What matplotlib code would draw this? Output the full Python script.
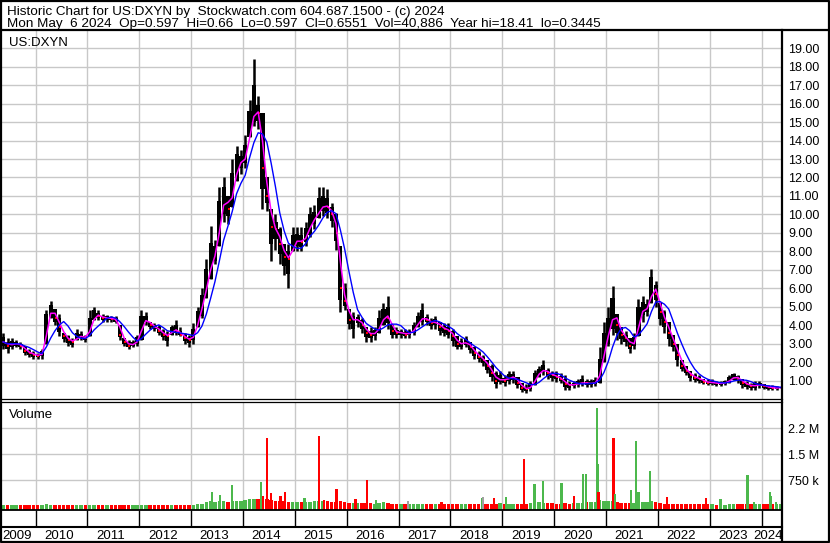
import numpy as np
import pandas as pd
import matplotlib
matplotlib.use("Agg")
import matplotlib.pyplot as plt

plt.rcParams['font.family'] = ['Liberation Sans', 'DejaVu Sans']

# monthly data, May 2009 .. May 2024
months = pd.period_range('2009-05', '2024-05', freq='M')

close = [3.1, 2.9, 3.0, 3.0, 2.9, 2.6, 2.5, 2.4,
         2.35, 2.5, 4.4, 4.9, 4.4, 3.9, 3.4, 3.2, 3.1, 3.4, 3.4, 3.3,
         4.0, 4.6, 4.5, 4.4, 4.4, 4.35, 4.3, 3.5, 3.1, 2.9, 3.0, 3.2,
         4.2, 4.3, 4.0, 3.9, 3.7, 3.5, 3.4, 3.8, 3.7, 3.5, 3.3, 3.2,
         3.5, 4.5, 5.3, 6.5, 7.5, 8.0, 10.0, 11.0, 10.3, 11.5, 12.8, 12.8,
         13.2, 15.0, 15.6, 15.5, 12.5, 11.0, 9.3, 9.2, 8.4, 7.7, 7.6, 8.5,
         8.6, 8.5, 8.9, 9.6, 9.8, 10.3, 10.5, 10.4, 10.0, 9.0, 6.0, 5.3,
         4.3, 4.3, 4.3, 4.0, 3.6, 3.5, 3.6, 4.0, 4.6, 4.4, 3.7, 3.6,
         3.6, 3.5, 3.6, 3.8, 4.3, 4.4, 4.3, 4.1, 4.2, 3.9, 3.8, 3.7,
         3.4, 3.0, 3.0, 3.1, 2.8, 2.5, 2.3, 2.1, 1.8, 1.4, 1.0, 1.1,
         1.0, 1.2, 1.2, 0.9, 0.6, 0.55, 0.7, 1.2, 1.5, 1.6, 1.4, 1.3,
         1.2, 1.1, 0.8, 0.75, 0.8, 0.85, 0.9, 0.85, 0.85, 0.9, 1.6, 3.0,
         3.8, 4.8, 4.0, 3.5, 3.3, 2.9, 3.1, 4.6, 4.9, 4.9, 6.2, 5.7,
         4.7, 4.2, 3.6, 3.0, 2.4, 1.8, 1.5, 1.3, 1.15, 1.1, 0.95, 0.9,
         0.9, 0.85, 0.85, 0.9, 1.05, 1.25, 1.1, 0.9, 0.8, 0.7, 0.75, 0.8,
         0.7, 0.65, 0.6, 0.6, 0.6551]

high = [3.6, 3.3, 3.3, 3.2, 3.1, 2.9, 2.7, 2.6,
        2.5, 2.7, 4.8, 5.3, 4.9, 4.6, 3.6, 3.5, 3.3, 3.8, 3.7, 3.5,
        4.8, 5.0, 4.8, 4.6, 4.55, 4.5, 4.5, 4.0, 3.3, 3.2, 3.2, 3.5,
        4.8, 4.7, 4.2, 4.1, 4.0, 3.8, 3.7, 4.0, 4.3, 3.9, 3.6, 3.5,
        4.1, 5.0, 6.0, 7.6, 9.4, 8.6, 11.5, 12.0, 11.0, 13.0, 13.7, 13.5,
        14.3, 16.2, 18.41, 16.4, 15.5, 12.0, 10.3, 10.0, 9.3, 8.4, 8.4, 9.3,
        9.3, 9.3, 9.6, 10.4, 10.5, 11.5, 11.5, 11.4, 10.6, 10.1, 8.3, 6.3,
        4.9, 4.7, 4.6, 4.4, 3.9, 3.9, 3.9, 4.8, 5.2, 5.6, 4.0, 3.9,
        3.8, 3.8, 3.8, 4.2, 4.7, 5.2, 4.6, 4.4, 4.5, 4.2, 4.1, 4.1,
        3.8, 3.4, 3.3, 3.4, 3.1, 2.8, 2.6, 2.4, 2.1, 1.9, 1.5, 1.5,
        1.3, 1.5, 1.5, 1.2, 0.85, 0.8, 1.0, 1.6, 1.8, 2.1, 1.7, 1.5,
        1.5, 1.4, 1.3, 1.0, 1.0, 1.1, 1.3, 1.1, 1.1, 1.2, 2.8, 4.2,
        5.0, 6.1, 4.6, 3.9, 3.7, 3.3, 3.6, 5.4, 5.6, 5.4, 7.05, 6.4,
        5.2, 4.8, 4.2, 3.5, 3.0, 2.1, 1.8, 1.5, 1.4, 1.3, 1.1, 1.1,
        1.1, 1.0, 1.0, 1.05, 1.3, 1.42, 1.3, 1.1, 1.0, 0.9, 1.0, 1.0,
        0.8, 0.75, 0.75, 0.7, 0.66]

low = [2.7, 2.5, 2.7, 2.8, 2.7, 2.4, 2.3, 2.2,
       2.2, 2.2, 3.0, 4.4, 4.0, 3.4, 3.1, 2.9, 2.8, 3.2, 3.2, 3.1,
       3.4, 4.3, 4.3, 4.2, 4.2, 4.2, 4.1, 3.2, 2.9, 2.7, 2.8, 2.9,
       3.2, 4.0, 3.8, 3.7, 3.5, 3.2, 2.9, 3.5, 3.5, 3.4, 3.0, 2.85,
       3.0, 3.9, 4.4, 5.5, 6.5, 7.3, 8.3, 9.6, 9.5, 10.4, 11.8, 12.2,
       12.5, 14.2, 14.8, 14.6, 10.3, 10.2, 7.5, 8.1, 7.3, 6.7, 6.0, 8.0,
       8.0, 8.0, 8.3, 8.8, 9.2, 9.8, 9.9, 9.8, 9.3, 8.1, 4.7, 4.8,
       3.8, 3.3, 3.9, 3.6, 3.1, 3.1, 3.2, 3.6, 4.0, 3.8, 3.3, 3.3,
       3.3, 3.3, 3.3, 3.5, 3.9, 4.0, 4.0, 3.8, 3.8, 3.5, 3.4, 3.3,
       2.9, 2.7, 2.7, 2.8, 2.5, 2.2, 2.0, 1.8, 1.4, 1.0, 0.6, 0.8,
       0.7, 0.8, 0.9, 0.6, 0.4, 0.3445, 0.45, 0.75, 1.2, 1.3, 1.1, 1.0,
       0.95, 0.85, 0.5, 0.5, 0.6, 0.65, 0.7, 0.65, 0.65, 0.7, 0.9, 2.0,
       2.9, 3.5, 3.2, 3.0, 2.9, 2.5, 2.7, 3.4, 4.2, 4.5, 5.2, 5.0,
       4.0, 3.6, 2.9, 2.6, 1.8, 1.5, 1.3, 1.0, 0.95, 0.9, 0.8, 0.75,
       0.75, 0.7, 0.7, 0.75, 0.9, 1.05, 0.9, 0.6, 0.55, 0.5, 0.5, 0.6,
       0.55, 0.5, 0.5, 0.5, 0.597]

# typical volume per month (thousands)
vol_month = [30, 40, 30, 30, 30, 30, 30, 30,
             30, 40, 60, 50, 40, 30, 30, 30, 30, 30, 40, 40,
             40, 50, 40, 30, 30, 30, 30, 40, 30, 30, 30, 30,
             30, 30, 30, 30, 30, 30, 30, 30, 30, 30, 30, 40,
             50, 60, 80, 120, 150, 120, 150, 150, 120, 150, 160, 150,
             180, 200, 220, 200, 220, 200, 180, 150, 150, 150, 130, 120,
             120, 120, 120, 130, 150, 150, 160, 150, 130, 130, 150, 120,
             100, 100, 90, 90, 90, 90, 80, 100, 110, 100, 80, 80,
             70, 60, 60, 60, 70, 80, 70, 60, 60, 60, 60, 60,
             60, 60, 60, 70, 70, 60, 60, 60, 70, 80, 80, 90,
             80, 80, 70, 70, 80, 80, 90, 110, 110, 100, 90, 90,
             80, 80, 90, 80, 90, 100, 100, 110, 110, 130, 180, 160,
             140, 160, 120, 100, 90, 90, 100, 140, 130, 120, 140, 110,
             90, 80, 80, 70, 80, 70, 60, 60, 60, 60, 60, 60,
             60, 50, 50, 50, 60, 80, 70, 70, 60, 60, 60, 60,
             60, 60, 60, 70, 60]

# single heavy trading days
spike_dates = ['2013-05-28', '2013-07-22', '2013-10-17', '2014-05-05', '2014-05-23',
               '2014-06-16', '2014-07-14', '2014-09-20', '2014-10-23', '2015-03-10',
               '2015-06-19', '2015-07-24', '2015-10-21', '2016-03-01', '2016-05-20',
               '2016-07-25', '2017-03-08', '2017-10-30', '2018-08-14', '2018-08-19',
               '2018-11-03', '2019-01-26', '2019-06-03', '2019-08-16', '2019-10-12',
               '2020-02-22', '2020-05-20', '2020-07-19', '2020-08-09', '2020-10-27',
               '2020-11-02', '2020-11-08', '2021-02-23', '2021-03-03', '2021-06-23',
               '2021-07-30', '2021-08-17', '2021-11-05', '2022-03-05', '2022-12-04',
               '2023-03-18', '2023-09-24', '2023-11-10', '2024-02-28', '2024-03-06',
               '2024-04-10']
spike_vol = [404, 326, 615, 692, 306,
             1960, 380, 300, 413, 240,
             2030, 175, 500, 200, 760,
             180, 153, 115, 230, 268,
             230, 268, 1360, 635, 730,
             672, 300, 932, 932, 2840,
             1220, 420, 1980, 350, 470,
             1880, 420, 1020, 268, 230,
             200, 900, 115, 420, 306,
             115]
spike_col = ['g', 'g', 'g', 'g', 'r',
             'r', 'r', 'r', 'r', 'g',
             'r', 'r', 'r', 'r', 'r',
             'g', 'k', 'r', 'g', 'k',
             'r', 'g', 'r', 'g', 'g',
             'g', 'r', 'g', 'g', 'g',
             'g', 'r', 'r', 'g', 'g',
             'g', 'g', 'g', 'r', 'r',
             'g', 'g', 'g', 'g', 'g',
             'g']

years = list(range(2009, 2025))

GREEN = '#4cb84c'
RED = '#ff0000'
GRAY = '#a0a0a0'
GRID = '#c8c8c8'

close = np.array(close)
high = np.array(high)
low = np.array(low)
t = np.array(months.year + (months.month - 0.5) / 12.0)
prev = np.r_[close[0], close[:-1]]
ma_fast = pd.Series(close).rolling(2, min_periods=1).mean()
ma_slow = pd.Series(close).rolling(5, min_periods=1).mean()

# dense part of each month's trading range
inner_lo = np.clip(np.minimum(prev, (low + close) / 2), low, high)
inner_hi = np.clip(np.maximum(prev, (high + close) / 2), low, high)

sd = pd.to_datetime(spike_dates)
ts = np.array(sd.year + (sd.dayofyear - 0.5) / 365.0)
cmap = {'g': GREEN, 'r': RED, 'k': GRAY}

W, H = 830, 543
fig = plt.figure(figsize=(W / 100, H / 100), dpi=100)

def rect(x0, y0, x1, y1):
    return [x0 / W, 1 - y1 / H, (x1 - x0) / W, (y1 - y0) / H]

PXY = 51.86             # pixels per year
X0 = 2009.3135
X1 = X0 + 781.5 / PXY

# price panel
ax_p = fig.add_axes(rect(0, 31, 781.5, 398.6))
down = close < prev
ax_p.vlines(t, low, high, color='black', lw=1.8, zorder=3)
ax_p.bar(t, inner_hi - inner_lo, bottom=inner_lo, width=0.95 / 12,
         color='black', lw=0, zorder=3)
ax_p.plot(t[down] + 0.012, close[down], 's', color=RED, ms=1.8, mew=0, zorder=4)
ax_p.plot(t, ma_fast, color='#ff00ff', lw=1.1, zorder=5)
ax_p.plot(t, ma_slow, color='#0000ff', lw=1.0, zorder=6)
ax_p.set_xlim(X0, X1)
ax_p.set_ylim(0.03, 19.93)
ax_p.set_xticks(years[1:])
ax_p.set_yticks(range(1, 20))
ax_p.set_yticklabels([f'{v:.2f}' for v in range(1, 20)])
ax_p.yaxis.tick_right()
ax_p.tick_params(axis='y', length=0, pad=5, labelsize=9)
ax_p.tick_params(axis='x', length=0, labelbottom=False)
ax_p.grid(True, color=GRID, lw=1.0)
ax_p.set_axisbelow(True)
for s in ax_p.spines.values():
    s.set_visible(False)
ax_p.text(9 / 781.5, 1 - 15 / 367.6, 'US:DXYN', transform=ax_p.transAxes,
          fontsize=9.5, va='baseline', ha='left')

# volume panel
VB = -92000
ax_v = fig.add_axes(rect(0, 402, 781.5, 509.5))
vcol = [GREEN if c >= p else RED for c, p in zip(close, prev)]
ax_v.bar(t, np.array(vol_month) * 1000 - VB, bottom=VB, width=0.8 / 12,
         color=vcol, lw=0, zorder=3)
ax_v.bar(ts, np.array(spike_vol) * 1000 - VB, bottom=VB, width=0.045,
         color=[cmap[c] for c in spike_col], lw=0, zorder=3)
ax_v.set_xlim(X0, X1)
ax_v.set_ylim(VB, 3.009e6)
ax_v.set_xticks(years[1:])
ax_v.set_yticks([750000, 1500000, 2250000])
ax_v.set_yticklabels(['750 k', '1.5 M', '2.2 M'])
ax_v.yaxis.tick_right()
ax_v.tick_params(axis='y', length=0, pad=5, labelsize=9)
ax_v.tick_params(axis='x', length=0, labelbottom=False)
ax_v.grid(True, color=GRID, lw=1.0)
ax_v.set_axisbelow(True)
for s in ax_v.spines.values():
    s.set_visible(False)
ax_v.text(9 / 781.5, 1 - 15.5 / 107.5, 'Volume', transform=ax_v.transAxes,
          fontsize=9.5, va='baseline', ha='left')

# band with year separators and year labels
ax_b = fig.add_axes(rect(0, 510, 781.5, 526.7))
ax_b.set_xlim(X0, X1)
ax_b.set_ylim(0, 1)
ax_b.vlines(years[1:], 0, 1, color='black', lw=1.0)
ax_b.axis('off')

ax_y = fig.add_axes(rect(0, 527, 781.5, 541))
ax_y.set_xlim(X0, X1)
ax_y.set_ylim(0, 1)
ax_y.axis('off')
for y in years:
    if y == 2009:
        ax_y.text(X0 + 2.7 / PXY, 0.15, str(y), ha='left', va='baseline', fontsize=9.5)
    elif y == 2024:
        ax_y.text(X1 + 1.5 / PXY, 0.15, str(y), ha='right', va='baseline', fontsize=9.5,
                  clip_on=False)
    else:
        ax_y.text(y + 0.5 - 2.5 / PXY, 0.15, str(y), ha='center', va='baseline',
                  fontsize=9.5)

# frame and header
ov = fig.add_axes([0, 0, 1, 1], facecolor='none', zorder=10)
ov.set_xlim(0, W)
ov.set_ylim(H, 0)
ov.axis('off')
k = 'black'
ov.plot([1, W - 1, W - 1, 1, 1], [1, 1, H - 1.5, H - 1.5, 1], color=k, lw=1.6)
ov.plot([0, W], [30, 30], color=k, lw=1.6)
ov.plot([781.5, 781.5], [30, H], color=k, lw=1.6)
ov.plot([0, 781.5], [399.3, 399.3], color=k, lw=0.9)
ov.plot([0, 781.5], [402.0, 402.0], color=k, lw=0.9)
ov.plot([0, 781.5], [510.0, 510.0], color=k, lw=1.3)
ov.plot([0, 781.5], [526.8, 526.8], color=k, lw=1.5)

ov.text(6.7, 15, 'Historic Chart for US:DXYN by  Stockwatch.com 604.687.1500 - (c) 2024',
        fontsize=9.7, va='baseline', ha='left')
ov.text(6.7, 27.3, 'Mon May  6 2024  Op=0.597  Hi=0.66  Lo=0.597  Cl=0.6551  '
        'Vol=40,886  Year hi=18.41  lo=0.3445',
        fontsize=9.7, va='baseline', ha='left')

fig.savefig('out.png', dpi=100)
